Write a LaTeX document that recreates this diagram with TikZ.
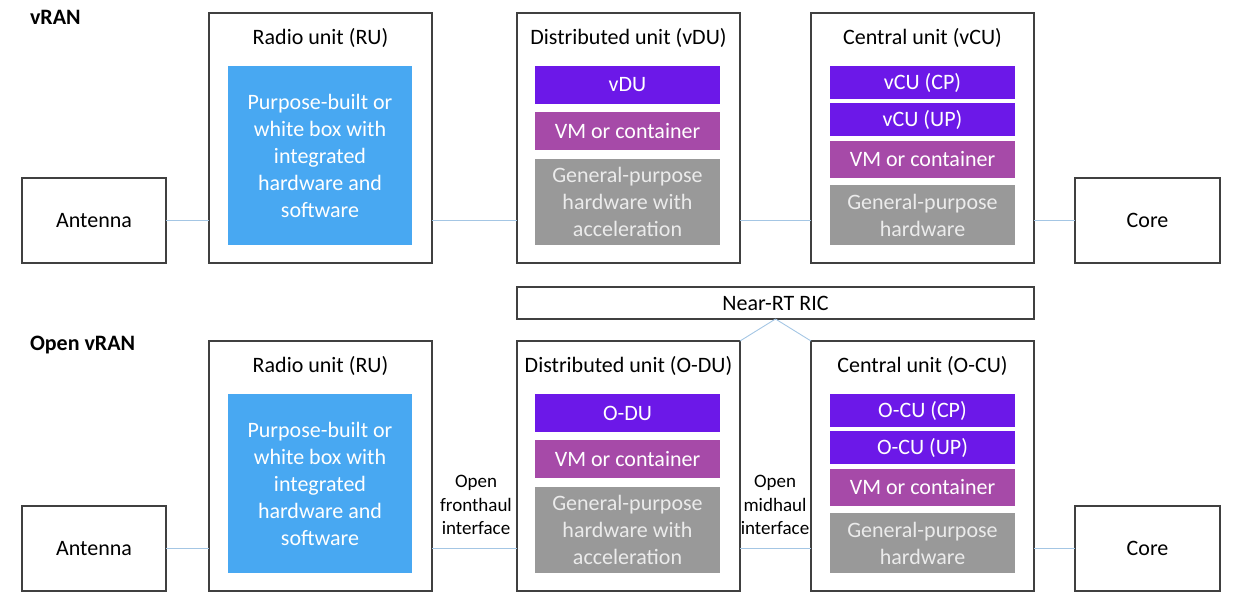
\documentclass[tikz,border=0pt]{standalone}
\usepackage{fontspec}
\setmainfont{Carlito}
\definecolor{frame}{HTML}{404040}
\definecolor{link}{HTML}{A4C6E4}
\definecolor{rublue}{HTML}{48A8F2}
\definecolor{fnviolet}{HTML}{6C18E8}
\definecolor{vmpurple}{HTML}{A64AA8}
\definecolor{hwgray}{HTML}{999999}
\begin{document}
\begin{tikzpicture}[x=1pt,y=-1pt,
  every node/.style={inner sep=0pt,outer sep=0pt},
  unit/.style={draw=frame,line width=1.1pt,fill=white},
  endbox/.style={unit,minimum width=144,minimum height=85,font=\fontsize{22}{27}\selectfont},
  frame box/.style={unit,minimum width=223,minimum height=250},
  caption/.style={font=\fontsize{22}{27}\selectfont,text=black},
  layer/.style={minimum width=185,align=center,text=white,font=\fontsize{22}{27}\selectfont},
  hwlayer/.style={layer,fill=hwgray,text=white!92!black},
  link/.style={draw=link,line width=0.9pt},
  iface/.style={align=center,font=\fontsize{19}{23.5}\selectfont}
]
\useasboundingbox (0,0) rectangle (1238,593);

% ---------------- vRAN ----------------
\node[anchor=west,font=\fontsize{22}{27}\selectfont\bfseries] (lvran) at (30,17) {vRAN};

\node[endbox] (ant1) at (94,220.5) {Antenna};
\node[frame box] (ru1) at (320.5,138) {};
\node[frame box] (du1) at (628.5,138) {};
\node[frame box] (cu1) at (922.5,138) {};
\node[endbox,minimum width=145] (core1) at (1147.5,220.5) {Core};

\node[caption] (ru1t) at (320.5,38) {Radio unit (RU)};
\node[caption] (du1t) at (628.5,38) {Distributed unit (vDU)};
\node[caption] (cu1t) at (922.5,38) {Central unit (vCU)};

\node[layer,fill=rublue,minimum width=184,minimum height=179] (ru1hw) at (320,155.5)
  {Purpose-built or\\white box with\\integrated\\hardware and\\software};

\node[layer,fill=fnviolet,minimum height=38] (du1fn) at (627.5,85) {vDU};
\node[layer,fill=vmpurple,minimum height=38] (du1vm) at (627.5,131) {VM or container};
\node[hwlayer,minimum height=86] (du1hw) at (627.5,202) {General-purpose\\hardware with\\acceleration};

\node[layer,fill=fnviolet,minimum height=33] (cu1cp) at (922.5,82.5) {vCU (CP)};
\node[layer,fill=fnviolet,minimum height=33] (cu1up) at (922.5,119.5) {vCU (UP)};
\node[layer,fill=vmpurple,minimum height=37] (cu1vm) at (922.5,159.5) {VM or container};
\node[hwlayer,minimum height=60] (cu1hw) at (922.5,215) {General-purpose\\hardware};

\draw[link] (ant1.east) -- (ant1.east -| ru1.west);
\draw[link] (ru1.east |- ant1) -- (ant1 -| du1.west);
\draw[link] (du1.east |- ant1) -- (ant1 -| cu1.west);
\draw[link] (cu1.east |- ant1) -- (core1.west);

% ---------------- Open vRAN ----------------
\node[anchor=west,font=\fontsize{22}{27}\selectfont\bfseries] (lovran) at (30,345) {Open vRAN};

\node[unit,minimum width=517,minimum height=32,font=\fontsize{22}{27}\selectfont] (ric) at (775.5,303) {Near-RT RIC};

\node[endbox] (ant2) at (94,548.5) {Antenna};
\node[frame box] (ru2) at (320.5,466) {};
\node[frame box] (du2) at (628.5,466) {};
\node[frame box] (cu2) at (922.5,466) {};
\node[endbox,minimum width=145] (core2) at (1147.5,548.5) {Core};

\node[caption] (ru2t) at (320.5,366) {Radio unit (RU)};
\node[caption] (du2t) at (628.5,366) {Distributed unit (O-DU)};
\node[caption] (cu2t) at (922.5,366) {Central unit (O-CU)};

\node[layer,fill=rublue,minimum width=184,minimum height=179] (ru2hw) at (320,483.5)
  {Purpose-built or\\white box with\\integrated\\hardware and\\software};

\node[layer,fill=fnviolet,minimum height=38] (du2fn) at (627.5,413) {O-DU};
\node[layer,fill=vmpurple,minimum height=38] (du2vm) at (627.5,459) {VM or container};
\node[hwlayer,minimum height=86] (du2hw) at (627.5,530) {General-purpose\\hardware with\\acceleration};

\node[layer,fill=fnviolet,minimum height=33] (cu2cp) at (922.5,410.5) {O-CU (CP)};
\node[layer,fill=fnviolet,minimum height=33] (cu2up) at (922.5,447.5) {O-CU (UP)};
\node[layer,fill=vmpurple,minimum height=37] (cu2vm) at (922.5,487.5) {VM or container};
\node[hwlayer,minimum height=60] (cu2hw) at (922.5,543) {General-purpose\\hardware};

\draw[link] (ant2.east) -- (ant2.east -| ru2.west);
\draw[link] (ru2.east |- ant2) -- (ant2 -| du2.west);
\draw[link] (du2.east |- ant2) -- (ant2 -| cu2.west);
\draw[link] (cu2.east |- ant2) -- (core2.west);

\draw[link] (ric.south) -- (du2.north east);
\draw[link] (ric.south) -- (cu2.north west);

\node[iface] (fh) at (476,505) {Open\\fronthaul\\interface};
\node[iface] (mh) at (775,505) {Open\\midhaul\\interface};
\end{tikzpicture}
\end{document}
